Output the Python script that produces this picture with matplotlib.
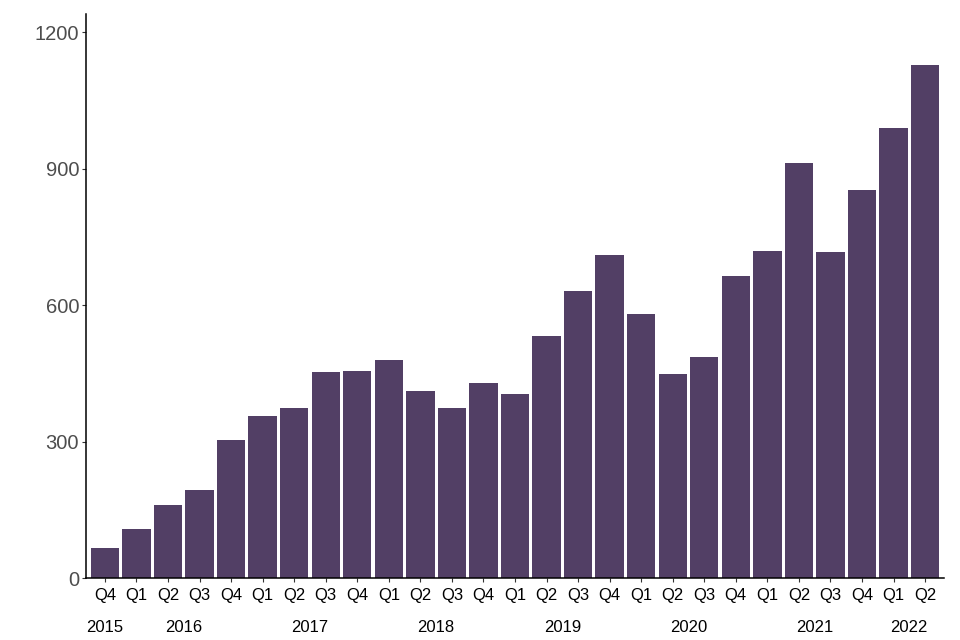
import matplotlib
matplotlib.use("Agg")
import matplotlib.pyplot as plt
from matplotlib.transforms import blended_transform_factory

plt.rcParams["font.family"] = ["Liberation Sans", "DejaVu Sans"]

quarters = ["Q4",
            "Q1", "Q2", "Q3", "Q4",
            "Q1", "Q2", "Q3", "Q4",
            "Q1", "Q2", "Q3", "Q4",
            "Q1", "Q2", "Q3", "Q4",
            "Q1", "Q2", "Q3", "Q4",
            "Q1", "Q2", "Q3", "Q4",
            "Q1", "Q2"]
years = ["2015", "2016", "2017", "2018", "2019", "2020", "2021", "2022"]
year_counts = [1, 4, 4, 4, 4, 4, 4, 2]
values = [66, 108, 160, 193, 303, 356, 374, 453, 455, 479, 411, 374, 429, 404,
          532, 631, 710, 580, 448, 486, 664, 719, 912, 716, 853, 989, 1127]

fig = plt.figure(figsize=(9.6, 6.4), dpi=100)
ax = fig.add_axes([86/960, 62/640, (944-86)/960, (578-14)/640])

x = list(range(len(values)))
ax.bar(x, values, width=0.9, color="#523F65")

ax.set_xlim(-0.6, len(values) - 0.4)
ax.set_ylim(0, 1240)
ax.set_yticks([0, 300, 600, 900, 1200])
ax.tick_params(axis="y", labelsize=14.5, labelcolor="#4D4D4D", length=3, color="#333333", pad=2)
ax.set_xticks(x)
ax.set_xticklabels(quarters)
ax.tick_params(axis="x", labelsize=12, labelcolor="black", length=3, color="#333333", pad=4)

for s in ["top", "right"]:
    ax.spines[s].set_visible(False)
for s in ["left", "bottom"]:
    ax.spines[s].set_linewidth(1.1)
    ax.spines[s].set_color("black")

trans = blended_transform_factory(ax.transData, fig.transFigure)
start = 0
for yr, n in zip(years, year_counts):
    center = start + (n - 1) / 2
    ax.text(center, 1 - 627/640, yr, transform=trans, ha="center", va="center",
            fontsize=12, color="black")
    start += n

fig.savefig("out.png", dpi=100)
